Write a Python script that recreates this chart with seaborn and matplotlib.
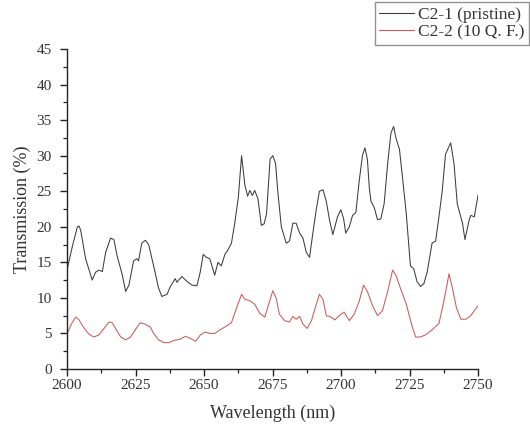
import matplotlib
matplotlib.use("Agg")
import matplotlib.pyplot as plt
import seaborn as sns
import pandas as pd
from matplotlib.ticker import MultipleLocator

# C2-1 (pristine) transmission spectrum
wl_pristine = [2600.1, 2602.0, 2603.8, 2604.4, 2605.0, 2606.8, 2609.2, 2610.4, 2611.7, 2612.9,
               2614.1, 2615.9, 2617.1, 2618.3, 2620.2, 2621.4, 2622.6, 2624.3, 2625.5, 2626.1,
               2627.3, 2628.6, 2629.8, 2631.6, 2633.4, 2634.6, 2636.5, 2637.7, 2639.5, 2640.1,
               2641.9, 2643.8, 2645.6, 2647.4, 2648.6, 2649.7, 2650.9, 2652.1, 2653.9, 2655.1,
               2656.3, 2657.6, 2658.8, 2660.0, 2661.2, 2662.5, 2663.7, 2664.9, 2665.9, 2666.7,
               2667.6, 2668.5, 2669.7, 2670.9, 2671.9, 2672.8, 2674.1, 2675.1, 2676.1, 2676.9,
               2678.2, 2680.0, 2681.2, 2682.4, 2683.6, 2684.9, 2686.1, 2687.3, 2688.5, 2689.7,
               2690.9, 2692.1, 2693.4, 2694.6, 2695.8, 2697.0, 2698.7, 2699.9, 2700.9, 2701.7,
               2703.0, 2704.2, 2705.4, 2706.6, 2707.8, 2708.7, 2709.6, 2710.3, 2710.9, 2712.1,
               2713.3, 2714.5, 2715.7, 2717.0, 2718.2, 2719.2, 2720.0, 2721.3, 2722.5, 2723.8,
               2725.3, 2726.5, 2727.7, 2729.0, 2730.2, 2731.4, 2733.2, 2734.5, 2735.7, 2736.9,
               2738.1, 2740.0, 2741.2, 2742.4, 2744.3, 2745.2, 2746.7, 2747.3, 2748.6, 2750.0]
tr_pristine = [14.1, 17.3, 20.0, 20.1, 19.5, 15.5, 12.5, 13.6, 13.9, 13.7,
               16.4, 18.4, 18.2, 15.9, 13.2, 10.9, 11.8, 15.2, 15.5, 15.2,
               17.7, 18.1, 17.5, 14.5, 11.4, 10.2, 10.5, 11.6, 12.7, 12.2,
               13.0, 12.3, 11.8, 11.7, 13.6, 16.1, 15.7, 15.5, 13.2, 15.0,
               14.5, 16.1, 16.8, 17.7, 20.5, 24.1, 30.0, 25.9, 24.3, 25.1,
               24.4, 25.1, 23.9, 20.2, 20.4, 21.8, 29.5, 30.0, 28.9, 25.0,
               20.0, 17.7, 18.0, 20.5, 20.5, 19.1, 18.4, 16.4, 15.7, 19.1,
               22.3, 25.0, 25.2, 23.6, 20.9, 18.9, 21.4, 22.4, 21.2, 19.1,
               20.0, 21.6, 22.0, 26.4, 30.0, 31.1, 29.5, 25.5, 23.6, 22.7,
               21.0, 21.1, 23.2, 28.9, 33.2, 34.1, 32.5, 30.9, 26.6, 21.8,
               14.5, 14.1, 12.3, 11.6, 12.0, 13.6, 17.7, 18.0, 21.4, 25.0,
               30.2, 31.8, 28.9, 23.2, 20.5, 18.2, 20.9, 21.6, 21.4, 24.5]

# C2-2 (10 Q. F.) transmission spectrum
wl_qf = [2600.1, 2601.7, 2603.2, 2604.4, 2606.3, 2608.0, 2609.8, 2611.7, 2613.5, 2615.3,
         2616.5, 2617.7, 2619.6, 2621.4, 2623.2, 2624.9, 2626.7, 2628.6, 2630.4, 2631.6,
         2633.4, 2635.3, 2637.1, 2638.9, 2641.4, 2643.2, 2645.0, 2646.9, 2648.7, 2650.4,
         2652.1, 2653.9, 2655.8, 2657.6, 2660.0, 2661.9, 2663.7, 2664.9, 2666.7, 2668.5,
         2670.4, 2672.2, 2673.9, 2675.1, 2676.3, 2677.5, 2679.4, 2681.2, 2682.4, 2683.6,
         2684.9, 2686.1, 2687.6, 2689.2, 2690.8, 2692.1, 2693.4, 2694.6, 2696.4, 2697.7,
         2699.3, 2701.1, 2703.0, 2704.8, 2706.6, 2708.2, 2709.6, 2711.5, 2713.3, 2715.1,
         2717.0, 2718.8, 2720.0, 2721.9, 2723.8, 2726.0, 2727.2, 2729.0, 2730.8, 2733.2,
         2735.7, 2737.5, 2739.4, 2740.6, 2742.1, 2743.7, 2745.5, 2747.3, 2750.0]
tr_qf = [5.0, 6.4, 7.3, 6.9, 5.7, 4.9, 4.5, 4.8, 5.7, 6.6,
         6.5, 5.7, 4.5, 4.1, 4.5, 5.5, 6.5, 6.3, 5.9, 5.0,
         4.1, 3.7, 3.7, 4.0, 4.2, 4.6, 4.3, 3.9, 4.8, 5.2,
         5.0, 5.0, 5.5, 5.9, 6.5, 8.6, 10.5, 9.8, 9.6, 9.1,
         7.8, 7.3, 9.5, 11.0, 10.0, 7.7, 6.8, 6.6, 7.4, 7.0,
         7.4, 6.3, 5.7, 6.8, 8.9, 10.5, 9.8, 7.5, 7.3, 6.9,
         7.5, 8.0, 6.8, 7.7, 9.5, 11.8, 10.9, 8.9, 7.5, 8.2,
         10.9, 13.9, 13.2, 11.1, 9.1, 5.9, 4.5, 4.5, 4.8, 5.5,
         6.4, 9.5, 13.4, 11.4, 8.6, 7.0, 7.0, 7.5, 8.9]

label_pristine = "C2-1 (pristine)"
label_qf = "C2-2 (10 Q. F.)"
color_pristine = "#3c3c3c"
color_qf = "#cc5a57"

df = pd.concat([
    pd.DataFrame({"Wavelength": wl_pristine, "Transmission": tr_pristine, "Sample": label_pristine}),
    pd.DataFrame({"Wavelength": wl_qf, "Transmission": tr_qf, "Sample": label_qf}),
], ignore_index=True)

sns.set_theme(style="ticks")
plt.rcParams["font.family"] = ["Liberation Serif", "DejaVu Serif"]

fig = plt.figure(figsize=(5.30, 4.34), dpi=100)
ax = fig.add_axes([0.1264, 0.1498, 0.7757, 0.7373])

sns.lineplot(data=df, x="Wavelength", y="Transmission", hue="Sample",
             palette={label_pristine: color_pristine, label_qf: color_qf},
             linewidth=0.75, ax=ax, sort=False, estimator=None, legend=False)

ax.set_xlim(2600, 2750)
ax.set_ylim(0, 45)
ax.xaxis.set_major_locator(MultipleLocator(25))
ax.xaxis.set_minor_locator(MultipleLocator(12.5))
ax.yaxis.set_major_locator(MultipleLocator(5))
ax.yaxis.set_minor_locator(MultipleLocator(2.5))
ax.tick_params(which="major", direction="out", length=5, width=1.0, colors="#222222",
               labelsize=11, labelcolor="#333333")
ax.tick_params(which="minor", direction="out", length=3, width=0.9, colors="#222222")
ax.tick_params(axis="x", which="major", pad=2)
ax.tick_params(axis="y", which="major", pad=6)

for side in ("top", "right"):
    ax.spines[side].set_visible(False)
for side in ("left", "bottom"):
    ax.spines[side].set_linewidth(1.0)
    ax.spines[side].set_color("#222222")

ax.set_xlabel("Wavelength (nm)", fontsize=13, color="#333333", labelpad=9)
ax.set_ylabel("Transmission (%)", fontsize=13, color="#333333", labelpad=4)

handles = [plt.Line2D([], [], color=color_pristine, lw=0.8),
           plt.Line2D([], [], color=color_qf, lw=0.8)]
leg = fig.legend(handles, [label_pristine, label_qf], loc="upper right",
                 bbox_to_anchor=(0.998, 0.995), fontsize=12.5, frameon=True,
                 fancybox=False, handlelength=2.0, handletextpad=0.25,
                 borderpad=0.25, labelspacing=0.1, borderaxespad=0)
leg.get_frame().set_edgecolor("#777777")
leg.get_frame().set_linewidth(1.0)
for t in leg.get_texts():
    t.set_color("#333333")

fig.savefig("out.png", dpi=100, facecolor="white")
